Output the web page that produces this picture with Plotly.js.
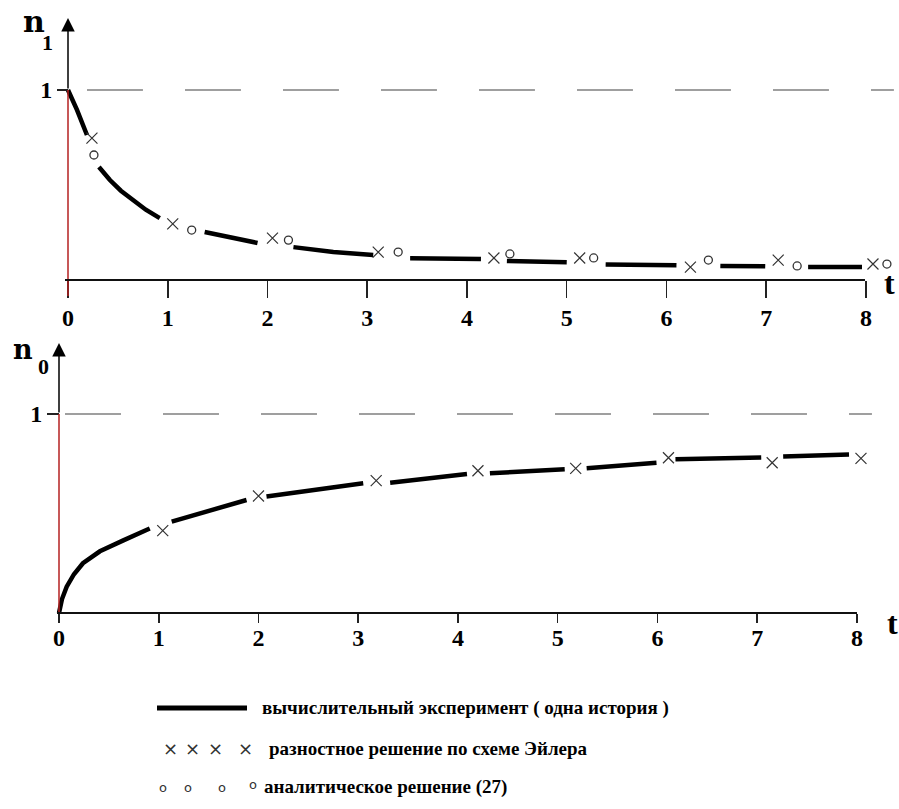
<!DOCTYPE html>
<html>
<head>
<meta charset="utf-8">
<script src="https://cdn.plot.ly/plotly-3.0.1.min.js"></script>
<style>html,body{margin:0;padding:0;background:#fff;}#chart{width:899px;height:809px;}</style>
</head>
<body>
<div id="chart"></div>
<script>
// ---------- data ----------
var tickValues = [0, 1, 2, 3, 4, 5, 6, 7, 8];
var tickLabels = ["0", "1", "2", "3", "4", "5", "6", "7", "8"];

// n1: computational experiment (one history), gaps where markers sit
var n1ExpT = [0, 0.09, 0.19, null, 0.31, 0.42, 0.53, 0.65, 0.78, 0.92, null, 1.37, 1.65, 1.9, null, 2.26, 2.66, 3.06, null, 3.43, 3.75, 4.14, null, 4.4, 5.0, null, 5.39, 6.1, null, 6.54, 6.99, null, 7.42, 7.96];
var n1ExpV = [1.0, 0.895, 0.763, null, 0.595, 0.526, 0.47, 0.42, 0.37, 0.326, null, 0.253, 0.22, 0.195, null, 0.173, 0.147, 0.132, null, 0.115, 0.113, 0.11, null, 0.1, 0.093, null, 0.082, 0.077, null, 0.074, 0.072, null, 0.068, 0.068];
// n1: Euler difference solution
var n1EulerT = [0.24, 1.05, 2.05, 3.11, 4.27, 5.13, 6.24, 7.12, 8.07];
var n1EulerV = [0.747, 0.295, 0.22, 0.147, 0.116, 0.116, 0.068, 0.105, 0.084];
// n1: analytic solution (27)
var n1AnaT = [0.26, 1.24, 2.21, 3.31, 4.43, 5.27, 6.42, 7.31, 8.21];
var n1AnaV = [0.658, 0.263, 0.21, 0.147, 0.137, 0.116, 0.105, 0.074, 0.084];

// n0: computational experiment
var n0ExpT = [0, 0.03, 0.077, 0.15, 0.24, 0.41, 0.645, 0.91, null, 1.13, 1.5, 1.88, null, 2.08, 2.55, 3.05, null, 3.32, 3.7, 4.09, null, 4.32, 4.7, 5.07, null, 5.29, 5.65, 5.99, null, 6.18, 6.6, 7.04, null, 7.26, 7.6, 7.92];
var n0ExpV = [0, 0.07, 0.132, 0.195, 0.25, 0.31, 0.365, 0.425, null, 0.459, 0.512, 0.568, null, 0.585, 0.617, 0.652, null, 0.655, 0.677, 0.698, null, 0.702, 0.713, 0.722, null, 0.727, 0.741, 0.755, null, 0.772, 0.777, 0.782, null, 0.786, 0.793, 0.797];
// n0: Euler difference solution
var n0EulerT = [1.04, 2.0, 3.18, 4.2, 5.18, 6.11, 7.15, 8.04];
var n0EulerV = [0.414, 0.588, 0.665, 0.715, 0.727, 0.78, 0.755, 0.777];

var legendTexts = [
  "вычислительный эксперимент ( одна история )",
  "разностное решение по схеме Эйлера",
  "аналитическое решение (27)"
];

// ---------- helpers ----------
var W = 899, H = 809;
function px(x) { return x / W; }
function py(y) { return 1 - y / H; }

var SERIF = "Liberation Serif";
var tickFont = {family: SERIF, size: 24, color: "#000", weight: "bold"};

var lineStyle = {color: "#000", width: 4.5};
var xMarker = {symbol: "x-thin-open", size: 11, line: {color: "#333", width: 1.2}, color: "#333"};
var oMarker = {symbol: "circle-open", size: 8, line: {color: "#333", width: 1.3}, color: "#333"};

var traces = [
  {x: n1ExpT, y: n1ExpV, mode: "lines", line: lineStyle, xaxis: "x", yaxis: "y", connectgaps: false, hoverinfo: "skip"},
  {x: n1EulerT, y: n1EulerV, mode: "markers", marker: xMarker, xaxis: "x", yaxis: "y", cliponaxis: false},
  {x: n1AnaT, y: n1AnaV, mode: "markers", marker: oMarker, xaxis: "x", yaxis: "y", cliponaxis: false},
  {x: n0ExpT, y: n0ExpV, mode: "lines", line: lineStyle, xaxis: "x2", yaxis: "y2", connectgaps: false, hoverinfo: "skip"},
  {x: n0EulerT, y: n0EulerV, mode: "markers", marker: xMarker, xaxis: "x2", yaxis: "y2", cliponaxis: false}
];

function xAxis(domain, pos, ticklen, standoff) {
  return {
    domain: domain, range: [-0.1, 8.3], anchor: "free", position: pos,
    showgrid: false, zeroline: false, showline: false,
    tickvals: tickValues, ticktext: tickLabels,
    ticks: "outside", ticklen: ticklen, tickwidth: 1.5, tickcolor: "#222",
    tickfont: tickFont, ticklabelstandoff: standoff, fixedrange: true
  };
}
function yAxis(domain, range, pos, ticklen) {
  return {
    domain: domain, range: range, anchor: "free", position: pos,
    showgrid: false, zeroline: false, showline: false,
    tickvals: [1], ticktext: ["1"],
    ticks: "outside", ticklen: ticklen, tickwidth: 1.5, tickcolor: "#222",
    tickfont: tickFont, ticklabelstandoff: 0, fixedrange: true
  };
}

var RED = "#b52020";
var GRAY = "#808080";

var shapes = [
  // top plot
  {type: "line", xref: "x", yref: "y", x0: 0, x1: 0, y0: -0.084, y1: 1, line: {color: RED, width: 1.5}},
  {type: "line", xref: "x", yref: "y", x0: -0.03, x1: 7.99, y0: 0, y1: 0, line: {color: "#111", width: 2}},
  {type: "line", xref: "x", yref: "y", x0: 0.19, x1: 8.28, y0: 1, y1: 1, line: {color: GRAY, width: 1.5, dash: "56px,42px"}},
  // bottom plot
  {type: "line", xref: "x2", yref: "y2", x0: 0, x1: 0, y0: 0, y1: 1, line: {color: RED, width: 1.5}},
  {type: "line", xref: "x2", yref: "y2", x0: -0.02, x1: 8.0, y0: 0, y1: 0, line: {color: "#111", width: 2}},
  {type: "line", xref: "x2", yref: "y2", x0: 0.06, x1: 8.15, y0: 1, y1: 1, line: {color: GRAY, width: 1.5, dash: "56px,42px"}},
  // legend line sample
  {type: "line", xref: "paper", yref: "paper", x0: px(157), x1: px(247), y0: py(708), y1: py(708), line: {color: "#000", width: 5}}
];

function txt(text, x, y, size, family, opts) {
  var a = {text: text, xref: "paper", yref: "paper", x: px(x), y: py(y), showarrow: false,
    font: {family: family || SERIF, size: size, color: "#000", weight: "bold"},
    xanchor: "center", yanchor: "middle"};
  if (opts) for (var k in opts) a[k] = opts[k];
  return a;
}

var annotations = [
  // axis arrows
  {x: 0, y: 1.379, ax: 0, ay: 1.0, xref: "x", yref: "y", axref: "x", ayref: "y", text: "", showarrow: true, arrowhead: 2, arrowsize: 1.8, arrowwidth: 1.5, arrowcolor: "#000", standoff: 0},
  {x: 0, y: 1.357, ax: 0, ay: 1.0, xref: "x2", yref: "y2", axref: "x2", ayref: "y2", text: "", showarrow: true, arrowhead: 2, arrowsize: 1.8, arrowwidth: 1.5, arrowcolor: "#000", standoff: 0},
  // axis titles
  txt("n", 34, 21, 30, "DejaVu Serif"),
  txt("1", 47, 43, 22),
  txt("n", 23, 349, 27, "DejaVu Serif"),
  txt("0", 43, 366, 22),
  txt("t", 889, 283, 32),
  txt("t", 892, 623, 32),
  // legend texts
  txt(legendTexts[0], 260, 708, 19, SERIF, {xanchor: "left"}),
  txt(legendTexts[1], 267, 748, 19, SERIF, {xanchor: "left"}),
  txt(legendTexts[2], 262, 787, 19, SERIF, {xanchor: "left"})
];
// legend symbols
[170, 192, 215, 245].forEach(function (x) {
  annotations.push({text: "×", xref: "paper", yref: "paper", x: px(x), y: py(748), showarrow: false,
    font: {family: "DejaVu Sans", size: 18, color: "#333"}, xanchor: "center", yanchor: "middle"});
});
[[163, 787], [188, 787], [222, 787], [253, 784]].forEach(function (p) {
  annotations.push({text: "o", xref: "paper", yref: "paper", x: px(p[0]), y: py(p[1]), showarrow: false,
    font: {family: "DejaVu Sans", size: 13, color: "#333"}, xanchor: "center", yanchor: "middle"});
});

var layout = {
  width: W, height: H,
  margin: {l: 0, r: 0, t: 0, b: 0},
  paper_bgcolor: "#fff", plot_bgcolor: "rgba(0,0,0,0)",
  showlegend: false,
  xaxis: xAxis([58.03 / W, 895.9 / W], py(280), 17, -1),
  yaxis: yAxis([py(297.1), py(14)], [-0.09, 1.4], px(68), 11),
  xaxis2: xAxis([49.03 / W, 886.9 / W], py(613), 9, -6),
  yaxis2: yAxis([py(622.95), py(334.4)], [-0.05, 1.4], px(59), 12),
  shapes: shapes,
  annotations: annotations
};

Plotly.newPlot("chart", traces, layout, {staticPlot: true});
</script>
</body>
</html>
